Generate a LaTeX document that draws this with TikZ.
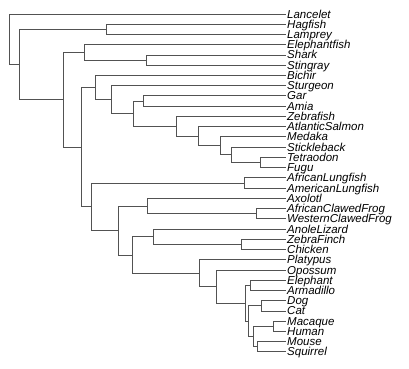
\documentclass[tikz,border=0pt]{standalone}
\usepackage{fontspec}
\setmainfont{Liberation Sans}
\begin{document}
\begin{tikzpicture}[x=1pt,y=-1pt,
  edge/.style={draw=black!68, line width=0.9pt},
  lab/.style={anchor=base west, inner sep=0pt, xshift=1pt, yshift=-4pt, font=\fontsize{11.5}{12}\selectfont\itshape}]
\useasboundingbox (0,0) rectangle (409,368);
% leaves
\foreach \n [count=\i from 0] in {Lancelet,Hagfish,Lamprey,Elephantfish,Shark,Stingray,Bichir,Sturgeon,Gar,Amia,Zebrafish,AtlanticSalmon,Medaka,Stickleback,Tetraodon,Fugu,AfricanLungfish,AmericanLungfish,Axolotl,AfricanClawedFrog,WesternClawedFrog,AnoleLizard,ZebraFinch,Chicken,Platypus,Opossum,Elephant,Armadillo,Dog,Cat,Macaque,Human,Mouse,Squirrel}{
  \coordinate (\n) at (286,14+10.24*\i);
  \node[lab] (l\n) at (\n) {\n};
}
% internal nodes
\coordinate (TF) at (260,162.48);
\coordinate (STF) at (231.7,154.8);
\coordinate (MSTF) at (220.7,145.84);
\coordinate (ASal) at (198.3,136.24);
\coordinate (Tel) at (176.7,126.32);
\coordinate (GA) at (143.3,101.04);
\coordinate (Neo) at (133.3,113.68);
\coordinate (Stu) at (111.7,99.68);
\coordinate (Act) at (95,87.56);
\coordinate (Lung) at (244.3,182.96);
\coordinate (Frogs) at (256.3,213.68);
\coordinate (Amph) at (147.7,206);
\coordinate (Birds) at (241.7,244.4);
\coordinate (Saur) at (153.3,236.72);
\coordinate (AfX) at (250,285.36);
\coordinate (Laur) at (261.7,305.84);
\coordinate (Prim) at (273.3,326.32);
\coordinate (Rod) at (257.7,346.8);
\coordinate (Euarch) at (253.3,336.56);
\coordinate (Boreo) at (248.3,321.2);
\coordinate (Euth) at (245.7,303.28);
\coordinate (Ther) at (216.7,286.64);
\coordinate (Mam) at (199,273.2);
\coordinate (Amn) at (132,254.96);
\coordinate (Tet) at (118.3,230.48);
\coordinate (Sarc) at (91,206.72);
\coordinate (Ost) at (81.7,147.14);
\coordinate (SS) at (146.7,60.08);
\coordinate (Chon) at (84.3,52.4);
\coordinate (Gna) at (63.3,99.77);
\coordinate (Cyc) at (106,29.36);
\coordinate (Vert) at (19,64.57);
\coordinate (Root) at (9,39.28);
% connectors
\foreach \p/\a/\b in {Root/Lancelet/Vert, Vert/Cyc/Gna, Cyc/Hagfish/Lamprey, Gna/Chon/Ost, Chon/Elephantfish/SS, SS/Shark/Stingray, Ost/Act/Sarc, Act/Bichir/Stu, Stu/Sturgeon/Neo, Neo/GA/Tel, GA/Gar/Amia, Tel/Zebrafish/ASal, ASal/AtlanticSalmon/MSTF, MSTF/Medaka/STF, STF/Stickleback/TF, TF/Tetraodon/Fugu, Sarc/Lung/Tet, Lung/AfricanLungfish/AmericanLungfish, Tet/Amph/Amn, Amph/Axolotl/Frogs, Frogs/AfricanClawedFrog/WesternClawedFrog, Amn/Saur/Mam, Saur/AnoleLizard/Birds, Birds/ZebraFinch/Chicken, Mam/Platypus/Ther, Ther/Opossum/Euth, Euth/AfX/Boreo, AfX/Elephant/Armadillo, Boreo/Laur/Euarch, Laur/Dog/Cat, Euarch/Prim/Rod, Prim/Macaque/Human, Rod/Mouse/Squirrel}{
  \draw[edge] (\p) |- (\a);
  \draw[edge] (\p) |- (\b);
}
\end{tikzpicture}
\end{document}
